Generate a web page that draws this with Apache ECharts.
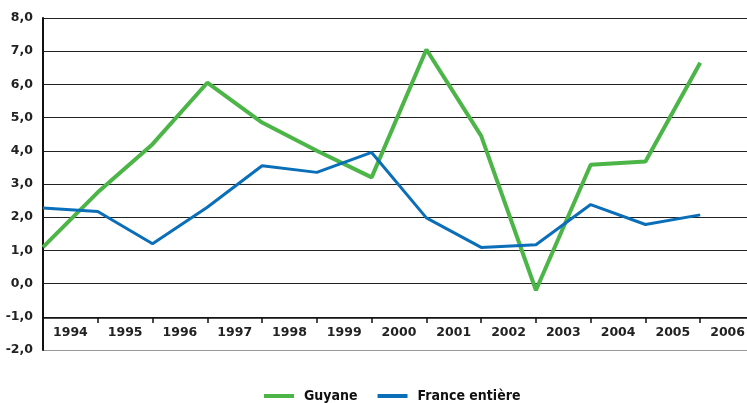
<!DOCTYPE html>
<html>
<head>
<meta charset="utf-8">
<script src="https://cdn.jsdelivr.net/npm/echarts@6/dist/echarts.min.js"></script>
<style>
  html, body { margin: 0; padding: 0; background: #fff; overflow: hidden; }
  /* the plot runs a little past the right edge, as in the original */
  #chart { width: 760px; height: 403px; }
</style>
</head>
<body>
<div id="chart"></div>
<script>
// years shown as labels, one per band
const years = ['1994', '1995', '1996', '1997', '1998', '1999', '2000',
               '2001', '2002', '2003', '2004', '2005', '2006'];
// points sit on band boundaries, so the data axis has one extra slot
const slots = years.concat(['']);
const guyane = [1.1, 2.75, 4.2, 6.05, 4.85, 4.0, 3.2, 7.05, 4.45, -0.2, 3.58, 3.68, 6.65];
const france = [2.28, 2.17, 1.2, 2.3, 3.55, 3.35, 3.95, 1.98, 1.09, 1.17, 2.38, 1.78, 2.07];
const yTicks = { min: -2, max: 8, step: 1 };

const labelFont = 'DejaVu Sans';
const green = '#4cb548';
const blue = '#0a6fb8';

// bottom line (-2,0) is lighter in the original
const gridColors = ['#999', '#222', '#222', '#222', '#222', '#222', '#222', '#222', '#222', '#222', '#222'];

let chart = echarts.init(document.getElementById('chart'));
chart.setOption({
    animation: false,
    grid: { left: 43, top: 18, right: 5, bottom: 53 },
    legend: {
        top: 384,
        left: 259,
        icon: 'rect',
        itemWidth: 30,
        itemHeight: 4,
        itemGap: 20,
        textStyle: {
            fontFamily: 'DejaVu Sans Condensed, Liberation Sans',
            fontWeight: 'bold',
            fontSize: 14,
            color: '#111',
            padding: [0, 0, 0, 5]
        },
        data: ['Guyane', 'France entière']
    },
    xAxis: [
        {
            type: 'category',
            data: slots,
            boundaryGap: false,
            show: false
        },
        {
            type: 'category',
            data: years,
            boundaryGap: true,
            position: 'bottom',
            offset: -32,
            axisLine: { lineStyle: { color: '#111', width: 1.5 } },
            axisTick: { show: true, length: 5, lineStyle: { color: '#111', width: 1.5 } },
            axisLabel: {
                fontFamily: labelFont,
                fontWeight: 'bold',
                fontSize: 12.5,
                color: '#222',
                margin: 8,
                interval: 0
            }
        }
    ],
    yAxis: {
        type: 'value',
        min: yTicks.min,
        max: yTicks.max,
        interval: yTicks.step,
        axisLine: { show: true, lineStyle: { color: '#111', width: 2 } },
        axisTick: { show: false },
        axisLabel: {
            fontFamily: labelFont,
            fontWeight: 'bold',
            fontSize: 12.5,
            color: '#222',
            margin: 10,
            formatter: v => v.toFixed(1).replace('.', ',')
        },
        splitLine: { lineStyle: { color: gridColors, width: 1 } }
    },
    series: [
        {
            name: 'Guyane',
            type: 'line',
            xAxisIndex: 0,
            data: guyane,
            symbol: 'none',
            color: green,
            lineStyle: { width: 4, color: green }
        },
        {
            name: 'France entière',
            type: 'line',
            xAxisIndex: 0,
            data: france,
            symbol: 'none',
            color: blue,
            lineStyle: { width: 3, color: blue }
        }
    ]
});
</script>
</body>
</html>
